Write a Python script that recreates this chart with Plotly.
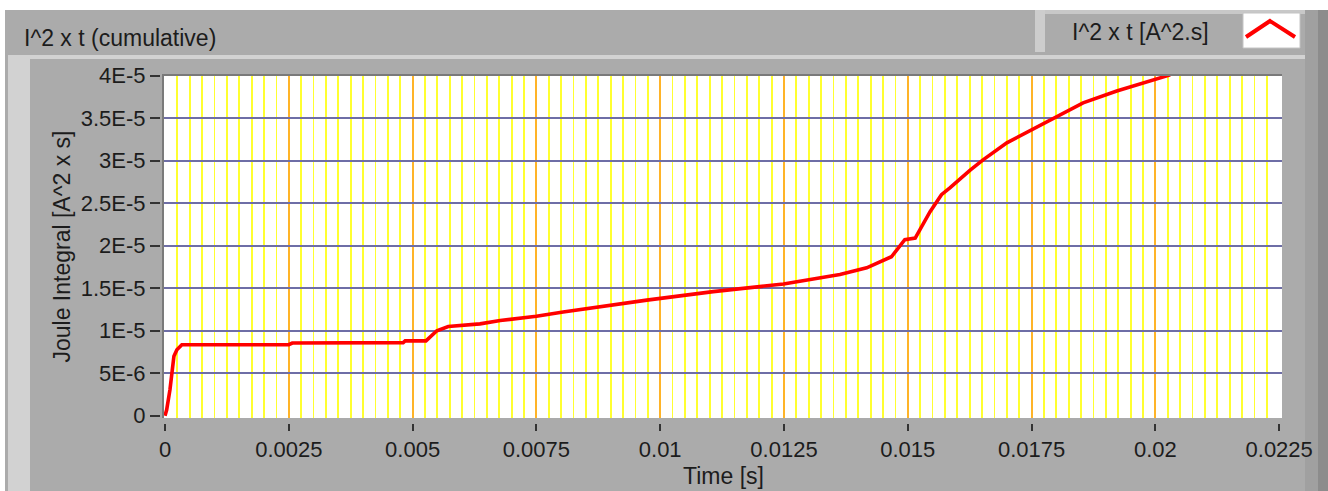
import plotly.graph_objects as go

# ---------------- data ----------------
time_s = [0, 0.000034, 0.0001, 0.000135, 0.00018, 0.00024, 0.00034, 0.0025, 0.00257,
          0.00481, 0.00485, 0.00527, 0.00549, 0.00572, 0.00636, 0.00677, 0.0075, 0.00804,
          0.00838, 0.00973, 0.01107, 0.01249, 0.01363, 0.01417, 0.01467, 0.01494, 0.01515,
          0.01545, 0.01568, 0.01585, 0.01626, 0.01652, 0.01700, 0.01750, 0.01801, 0.01854,
          0.01922, 0.01989, 0.02030]
joule = [0, 0.7e-6, 3.06e-6, 5.2e-6, 7.0e-6, 7.76e-6, 8.35e-6, 8.35e-6, 8.55e-6,
         8.6e-6, 8.8e-6, 8.8e-6, 1.0e-5, 1.05e-5, 1.08e-5, 1.12e-5, 1.17e-5, 1.22e-5,
         1.25e-5, 1.36e-5, 1.46e-5, 1.55e-5, 1.66e-5, 1.74e-5, 1.87e-5, 2.07e-5, 2.09e-5,
         2.40e-5, 2.60e-5, 2.68e-5, 2.89e-5, 3.01e-5, 3.21e-5, 3.36e-5, 3.52e-5, 3.68e-5,
         3.82e-5, 3.94e-5, 4.01e-5]

x_tickvals = [0, 0.0025, 0.005, 0.0075, 0.01, 0.0125, 0.015, 0.0175, 0.02, 0.0225]
x_ticktext = ["0", "0.0025", "0.005", "0.0075", "0.01", "0.0125", "0.015", "0.0175", "0.02", "0.0225"]
y_tickvals = [0, 5e-6, 1e-5, 1.5e-5, 2e-5, 2.5e-5, 3e-5, 3.5e-5, 4e-5]
y_ticktext = ["0", "5E-6", "1E-5", "1.5E-5", "2E-5", "2.5E-5", "3E-5", "3.5E-5", "4E-5"]

x_major_grid = x_tickvals[1:-1]
x_minor_grid = [round(i * 0.00025, 5) for i in range(1, 90) if i % 10 != 0]
y_grid = y_tickvals[1:-1]

title_text = "I^2 x t (cumulative)"
legend_text = "I^2 x t [A^2.s]"
x_title = "Time [s]"
y_title = "Joule Integral [A^2 x s]"

# ---------------- layout geometry ----------------
FW, FH = 1328, 491
L, R, T, B = 160, 46, 75, 68
W = FW - L - R
H = FH - T - B

def px(x):
    return (x - L) / W

def py(y):
    return (FH - B - y) / H

FONT = "Liberation Sans, Arial, sans-serif"
TXT = "#1c1c1c"
GREY = "#ABABAB"
LIGHT = "#D2D2D2"

fig = go.Figure()
fig.add_trace(go.Scatter(x=time_s, y=joule, mode="lines",
                         line=dict(color="#FF0000", width=3.6),
                         showlegend=False, hoverinfo="skip"))
fig.add_trace(go.Scatter(x=[], y=[], xaxis="x2", yaxis="y2", showlegend=False))

xr = [-4.04e-5, 0.022557]
yr = [-2.7e-7, 4.0082e-5]

fig.update_layout(
    width=FW, height=FH,
    margin=dict(l=L, r=R, t=T, b=B, pad=0),
    paper_bgcolor=GREY, plot_bgcolor="#FFFFFF",
    font=dict(family=FONT, size=22, color=TXT),
    showlegend=False,
    xaxis=dict(domain=[3 / W, 1], range=xr, tickmode="array", tickvals=x_major_grid,
               showticklabels=False, ticks="", showgrid=True, gridcolor="#FFB428",
               gridwidth=2, zeroline=False, showline=False,
               minor=dict(tickmode="array", tickvals=x_minor_grid, showgrid=True,
                          gridcolor="#FFFF30", gridwidth=1.8, ticks="")),
    yaxis=dict(domain=[5 / H, 1], range=yr, tickmode="array", tickvals=y_grid,
               showticklabels=False, ticks="", showgrid=True, gridcolor="#6E6EA6",
               gridwidth=2, zeroline=False, showline=False),
    xaxis2=dict(overlaying="x", anchor="free", position=0, range=xr,
                tickmode="array", tickvals=x_tickvals, ticktext=x_ticktext,
                ticks="outside", ticklen=7, tickwidth=2, tickcolor="#333333",
                showgrid=False, zeroline=False, showline=False,
                tickfont=dict(family=FONT, size=22, color=TXT)),
    yaxis2=dict(overlaying="y", anchor="free", position=0, side="left", range=yr,
                tickmode="array", tickvals=y_tickvals, ticktext=y_ticktext,
                ticks="outside", ticklen=10, tickwidth=2, tickcolor="#333333",
                showgrid=False, zeroline=False, showline=False,
                tickfont=dict(family=FONT, size=22, color=TXT)),
)

def rect(x0, y0, x1, y1, color, layer="below", line=None):
    fig.add_shape(type="rect", xref="paper", yref="paper",
                  x0=px(x0), x1=px(x1), y0=py(y1), y1=py(y0),
                  fillcolor=color, line=line or dict(width=0), layer=layer)

# outer frame decorations
rect(0, 0, FW, 10, "#FFFFFF")
rect(0, 0, 5, FH, "#FFFFFF")
rect(8, 55, 1305, 59, LIGHT)
rect(8, 55, 30, FH, LIGHT)
rect(1305, 10, 1318, FH, "#A0A0A0")
rect(1318, 10, FW, FH, "#8C8C8C")
# legend tab
rect(1035, 10, 1305, 14, "#C8C8C8")
rect(1035, 10, 1045, 52, "#CDCDCD")
rect(1243, 13, 1300, 48, "#FFFFFF", line=dict(color="#C4C4C4", width=1))
fig.add_shape(type="path", xref="paper", yref="paper",
              path=f"M {px(1246)},{py(37)} L {px(1270)},{py(21)} L {px(1295)},{py(37)}",
              line=dict(color="#FF0000", width=4), layer="above")
# sunken plot frame
fig.add_shape(type="line", xref="paper", yref="paper", x0=px(162), x1=px(1282),
              y0=py(75), y1=py(75), line=dict(color="#7A7A7A", width=2), layer="above")
fig.add_shape(type="line", xref="paper", yref="paper", x0=px(163), x1=px(163),
              y0=py(75), y1=py(418), line=dict(color="#7A7A7A", width=2), layer="above")

# texts
fig.add_annotation(text=title_text, xref="paper", yref="paper", x=px(120), y=py(38),
                   xanchor="center", yanchor="middle", showarrow=False,
                   font=dict(family=FONT, size=23, color=TXT))
fig.add_annotation(text=legend_text, xref="paper", yref="paper", x=px(1140), y=py(32),
                   xanchor="center", yanchor="middle", showarrow=False,
                   font=dict(family=FONT, size=23, color=TXT))
fig.add_annotation(text=x_title, xref="paper", yref="paper", x=px(723), y=py(476),
                   xanchor="center", yanchor="middle", showarrow=False,
                   font=dict(family=FONT, size=23, color=TXT))
fig.add_annotation(text=y_title, xref="paper", yref="paper", x=px(61), y=py(246.5),
                   xanchor="center", yanchor="middle", showarrow=False, textangle=-90,
                   font=dict(family=FONT, size=23, color=TXT))

fig.write_html("out.html", config={"displayModeBar": False, "staticPlot": True},
               post_script="document.body.style.margin='0';document.body.style.overflow='hidden';")
